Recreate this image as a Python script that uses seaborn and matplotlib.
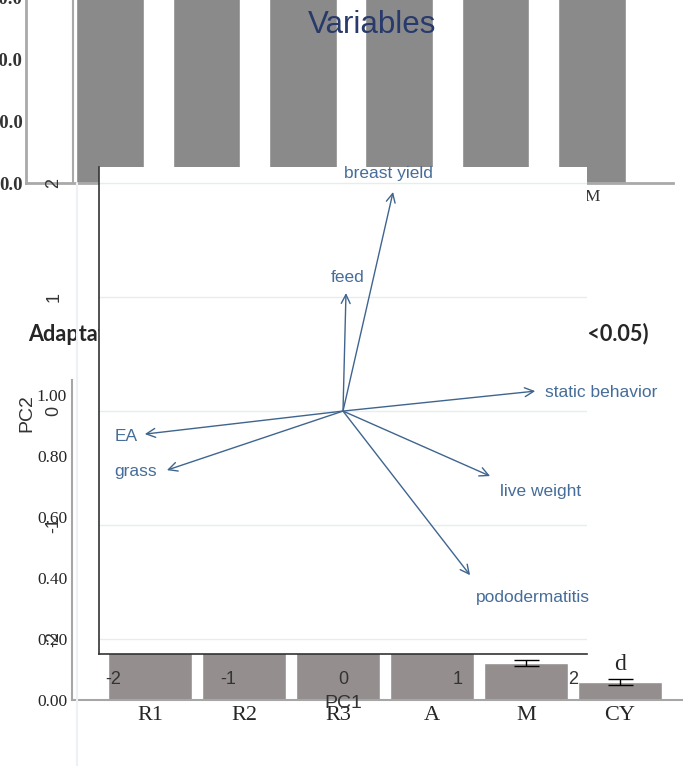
import matplotlib
matplotlib.use("Agg")
import matplotlib.pyplot as plt
from matplotlib.lines import Line2D
import pandas as pd
import seaborn as sns

# ---- data ----
top_groups = ["R1", "R2", "R3", "A", "CY", "M"]
top_values = [72, 75, 71, 74, 73, 70]          # all run off the top of the crop

bar_groups = ["R1", "R2", "R3", "A", "M", "CY"]
bar_values = [0.95, 0.88, 0.80, 0.72, 0.12, 0.06]
bar_err = [0.02, 0.02, 0.02, 0.02, 0.01, 0.01]
bar_letters = ["a", "a", "b", "b", "c", "d"]

variables = ["breast yield", "feed", "static behavior", "EA", "grass",
             "live weight", "pododermatitis"]
pc1 = [0.435, 0.026, 1.670, -1.722, -1.530, 1.278, 1.104]
pc2 = [1.921, 1.035, 0.175, -0.202, -0.518, -0.570, -1.439]

sns.set_style("white")
plt.rcParams["font.family"] = ["Liberation Sans", "DejaVu Sans"]
plt.rcParams["axes.unicode_minus"] = False

W, H = 683, 766
def box(x0, y0, x1, y1):
    return [x0 / W, 1 - y1 / H, (x1 - x0) / W, (y1 - y0) / H]

fig = plt.figure(figsize=(W / 100, H / 100), dpi=100)

# ---- chart behind, top ----
ax_top = fig.add_axes(box(26, -6, 673, 183))
df_top = pd.DataFrame({"group": top_groups, "value": top_values})
sns.barplot(data=df_top, x="group", y="value", color="#8a8a8a", saturation=1,
            width=0.7, errorbar=None, ax=ax_top)
ax_top.set_xlim(-0.871, 5.84)
ax_top.set_ylim(0, 61)
ax_top.set_yticks([0, 20, 40, 60])
ax_top.set_yticklabels(["0.0", "20.0", "40.0", "60.0"], family="Liberation Serif",
                       fontweight="bold", fontsize=13.5, color="#333333")
for lab in ax_top.get_xticklabels():
    lab.set_family("Liberation Serif")
ax_top.tick_params(axis="x", length=0, labelsize=12.5, pad=4, labelcolor="#333333")
ax_top.tick_params(axis="y", length=0, pad=2.5)
ax_top.set_xlabel("")
ax_top.set_ylabel("")
for s in ["top", "right"]:
    ax_top.spines[s].set_visible(False)
for s in ["left", "bottom"]:
    ax_top.spines[s].set_color("#a9a9a9")
    ax_top.spines[s].set_linewidth(2)

fig.add_artist(Line2D([73 / W, 73 / W], [1 - 183 / H, 1], color="#a9a9a9", lw=1.5))
fig.add_artist(Line2D([77 / W, 77 / W], [0, 1 - 183 / H], color="#edf1f6", lw=1.5))

# ---- chart behind, bottom ----
ax_bot = fig.add_axes(box(72, 380, 683, 700))
df_bot = pd.DataFrame({"group": bar_groups, "value": bar_values})
sns.barplot(data=df_bot, x="group", y="value", color="#948f8e", saturation=1,
            width=0.89, errorbar=None, ax=ax_bot)
ax_bot.errorbar(range(len(bar_values)), bar_values, yerr=bar_err, fmt="none",
                ecolor="black", elinewidth=1, capsize=9, capthick=1)
for i, (v, e, t) in enumerate(zip(bar_values, bar_err, bar_letters)):
    ax_bot.text(i, v + e + 0.012, t, ha="center", va="bottom", fontsize=17,
                family="Liberation Serif")
ax_bot.set_xlim(-0.83, 5.67)
ax_bot.set_ylim(0, 1.05)
ax_bot.set_yticks([0, 0.2, 0.4, 0.6, 0.8, 1.0])
ax_bot.set_yticklabels([f"{v:.2f}" for v in [0, 0.2, 0.4, 0.6, 0.8, 1.0]],
                       family="Liberation Serif", fontsize=12.5)
for lab in ax_bot.get_xticklabels():
    lab.set_family("Liberation Serif")
ax_bot.tick_params(axis="x", length=0, labelsize=16, pad=4)
ax_bot.tick_params(axis="y", length=0, pad=3.5)
ax_bot.set_xlabel("")
ax_bot.set_ylabel("")
for s in ["top", "right"]:
    ax_bot.spines[s].set_visible(False)
for s in ["left", "bottom"]:
    ax_bot.spines[s].set_color("#a6a6a6")
    ax_bot.spines[s].set_linewidth(1.5)
# drawn with the bottom chart so the PCA panel hides its middle
ax_bot.text(28 / W, 1 - 334 / H,
            "Adaptation index of broiler chickens in different groups (P<0.05)",
            transform=fig.transFigure, clip_on=False, ha="left", va="center",
            fontsize=15.6, fontweight="bold", family="Lato")

# ---- PCA variables plot on top ----
ax_bi = fig.add_axes(box(99, 167, 587, 654))
ax_bi.set_facecolor("white")
ax_bi.set_xlim(-2.12, 2.12)
ax_bi.set_ylim(-2.13, 2.14)
ax_bi.set_xticks([-2, -1, 0, 1, 2])
ax_bi.set_yticks([-2, -1, 0, 1, 2])
ax_bi.yaxis.grid(True, color="#e6ecef", lw=1)
ax_bi.xaxis.grid(False)
ax_bi.set_axisbelow(True)
for s in ["top", "right"]:
    ax_bi.spines[s].set_visible(False)
for s in ["left", "bottom"]:
    ax_bi.spines[s].set_color("#333333")
    ax_bi.spines[s].set_linewidth(1.2)
ax_bi.tick_params(direction="out", length=7.5, width=1, color="#333333",
                  labelsize=13, labelcolor="#333333")
ax_bi.tick_params(axis="y", labelrotation=90, pad=19)
ax_bi.tick_params(axis="x", pad=5)
for lab in ax_bi.get_yticklabels():
    lab.set_va("center")

arrow_col = "#3f658f"
# label offset in points from the arrow tip, and alignment
label_place = [(-3, 13, "center"), (1.5, 11, "center"), (7, -1, "left"),
               (-5, -2, "right"), (-7, -1, "right"), (7, -11, "left"), (4, -16, "left")]
for name, x, y, (dx, dy, ha) in zip(variables, pc1, pc2, label_place):
    ax_bi.annotate("", xy=(x, y), xytext=(0, 0),
                   arrowprops=dict(arrowstyle="->", color=arrow_col, lw=1,
                                   shrinkA=0, shrinkB=0, mutation_scale=16))
    ax_bi.annotate(name, xy=(x, y), xytext=(dx, dy), textcoords="offset points",
                   ha=ha, va="center", fontsize=12.5, color="#466d99",
                   annotation_clip=False)

ax_bi.set_xlabel("PC1", fontsize=14, color="#333333")
ax_bi.set_ylabel("PC2", fontsize=14, color="#333333")
ax_bi.xaxis.set_label_coords(0.5, -0.084)
ax_bi.yaxis.set_label_coords(-0.131, 0.495)
ax_bi.text(0.559, 1.292, "Variables", transform=ax_bi.transAxes, ha="center",
           va="center", fontsize=22.5, color="#283a6c")

fig.savefig("out.png", dpi=100)
